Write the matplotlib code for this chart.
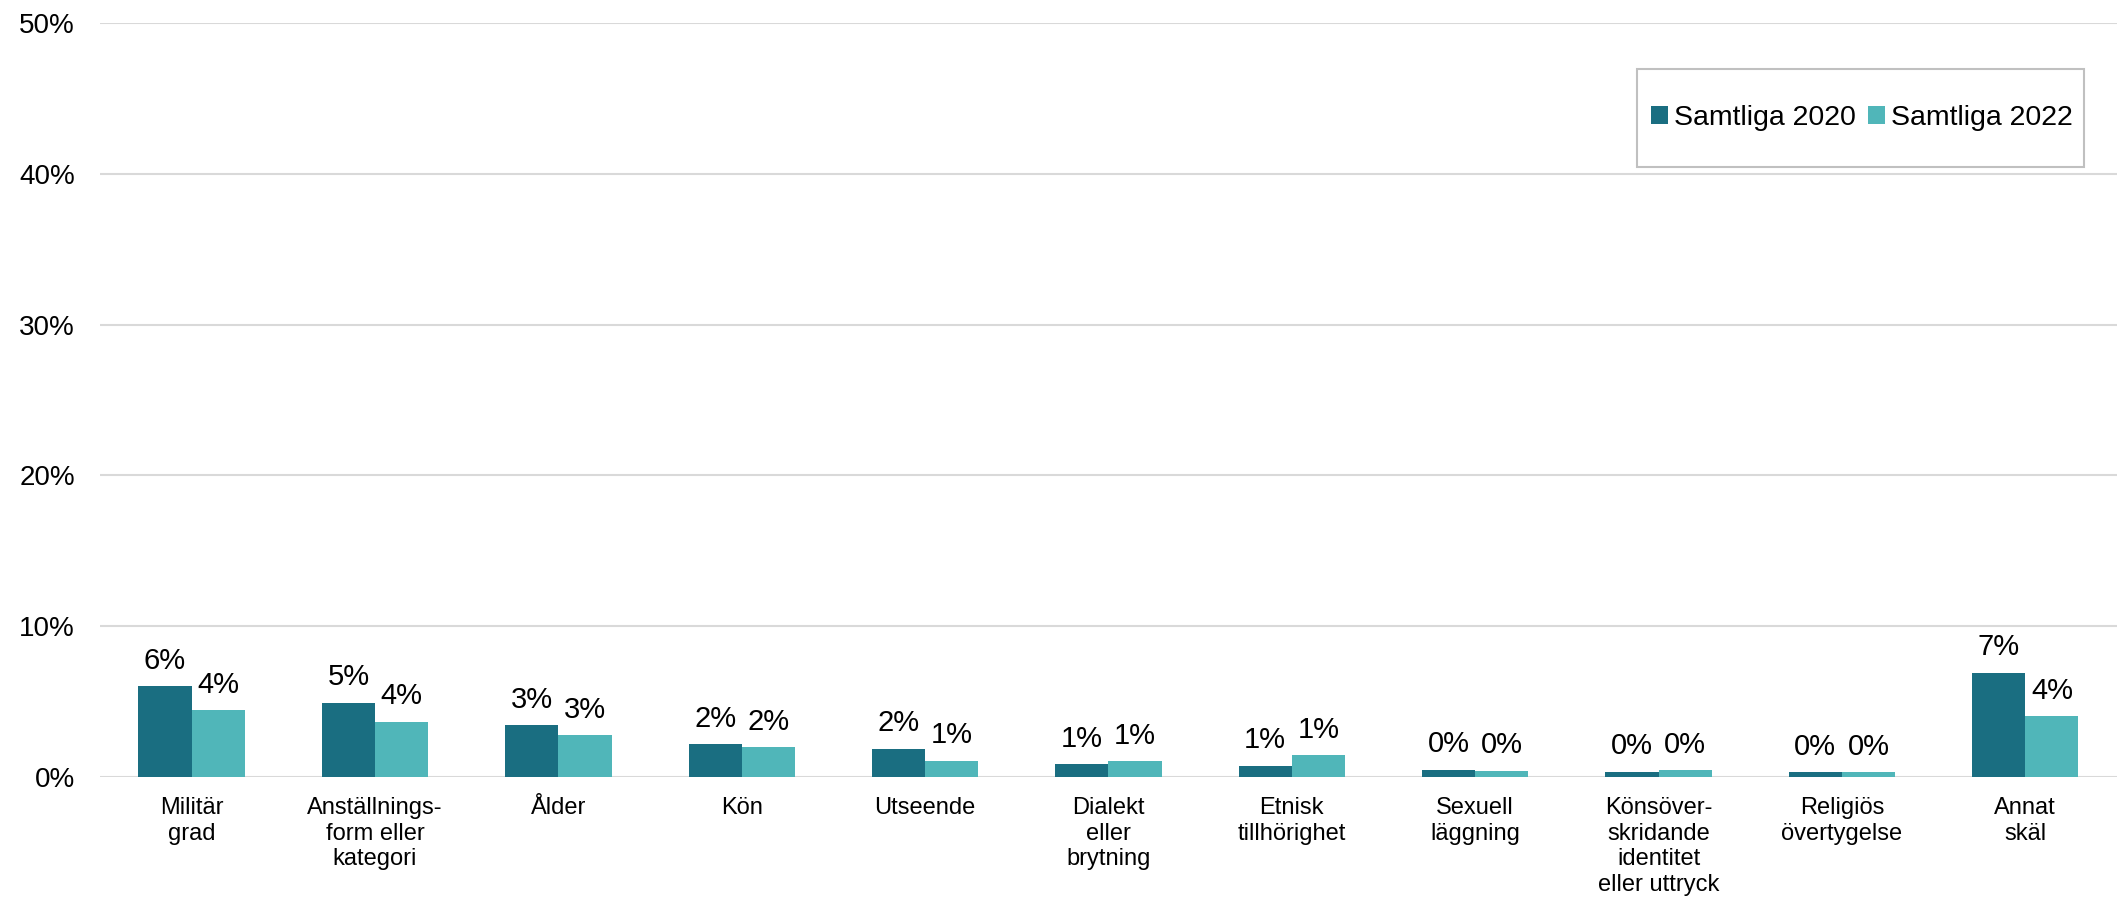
import matplotlib
matplotlib.use("Agg")
import matplotlib.pyplot as plt
import numpy as np
from matplotlib.patches import Rectangle

categories = ["Militär\ngrad", "Anställnings-\nform eller\nkategori", "Ålder", "Kön",
              "Utseende", "Dialekt\neller\nbrytning", "Etnisk\ntillhörighet",
              "Sexuell\nläggning", "Könsöver-\nskridande\nidentitet\neller uttryck",
              "Religiös\növertygelse", "Annat\nskäl"]
v2020 = [0.060, 0.049, 0.034, 0.0215, 0.0186, 0.0082, 0.0073, 0.0047, 0.0033, 0.0031, 0.069]
v2022 = [0.044, 0.0365, 0.0275, 0.0197, 0.0106, 0.0104, 0.0142, 0.0040, 0.0042, 0.0029, 0.040]
series_names = ["Samtliga 2020", "Samtliga 2022"]
yticks = [0, 0.1, 0.2, 0.3, 0.4, 0.5]
ytick_labels = ["0%", "10%", "20%", "30%", "40%", "50%"]

c2020 = "#1a6e81"
c2022 = "#50b6b9"

plt.rcParams['font.family'] = ['Liberation Sans', 'DejaVu Sans']

fig = plt.figure(figsize=(21.17, 9.01), dpi=100)
ax = fig.add_axes([0.0472, 0.138, 0.9528, 0.8361])

x = np.arange(len(categories))
w = 0.29
b1 = ax.bar(x - w / 2, v2020, w, color=c2020, label=series_names[0], zorder=3)
b2 = ax.bar(x + w / 2, v2022, w, color=c2022, label=series_names[1], zorder=3)

for bars, vals in ((b1, v2020), (b2, v2022)):
    for rect, v in zip(bars, vals):
        ax.annotate(f"{v * 100:.0f}%", (rect.get_x() + rect.get_width() / 2, v),
                    xytext=(0, 12.5), textcoords="offset points",
                    ha="center", va="baseline", fontsize=21, color="#000000")

ax.set_xlim(-0.5, len(categories) - 0.5)
ax.set_ylim(0, 0.5)
ax.set_yticks(yticks)
ax.set_yticklabels(ytick_labels, fontsize=20)
ax.set_xticks(x)
ax.set_xticklabels(categories, fontsize=17, linespacing=1.2)
ax.tick_params(axis="both", length=0)
ax.tick_params(axis="y", pad=18)
ax.tick_params(axis="x", pad=15)
ax.grid(axis="y", color="#d9d9d9", linewidth=1.5, zorder=0)
ax.set_axisbelow(True)
for s in ax.spines.values():
    s.set_visible(False)

# legend frame
fig.patches.append(Rectangle((0.7731, 0.8143), 0.9844 - 0.7731, 0.9231 - 0.8143,
                             transform=fig.transFigure, facecolor="white",
                             edgecolor="#c0c0c0", linewidth=1.5, zorder=5))
leg = fig.legend(loc="center", bbox_to_anchor=(0.8795, 1 - 118.3 / 901),
                 ncol=2, frameon=False, fontsize=20.5, handlelength=0.6,
                 handleheight=0.6, handletextpad=0.2, columnspacing=0.45,
                 borderpad=0)
leg.set_zorder(6)

fig.savefig("out.png", dpi=100)
